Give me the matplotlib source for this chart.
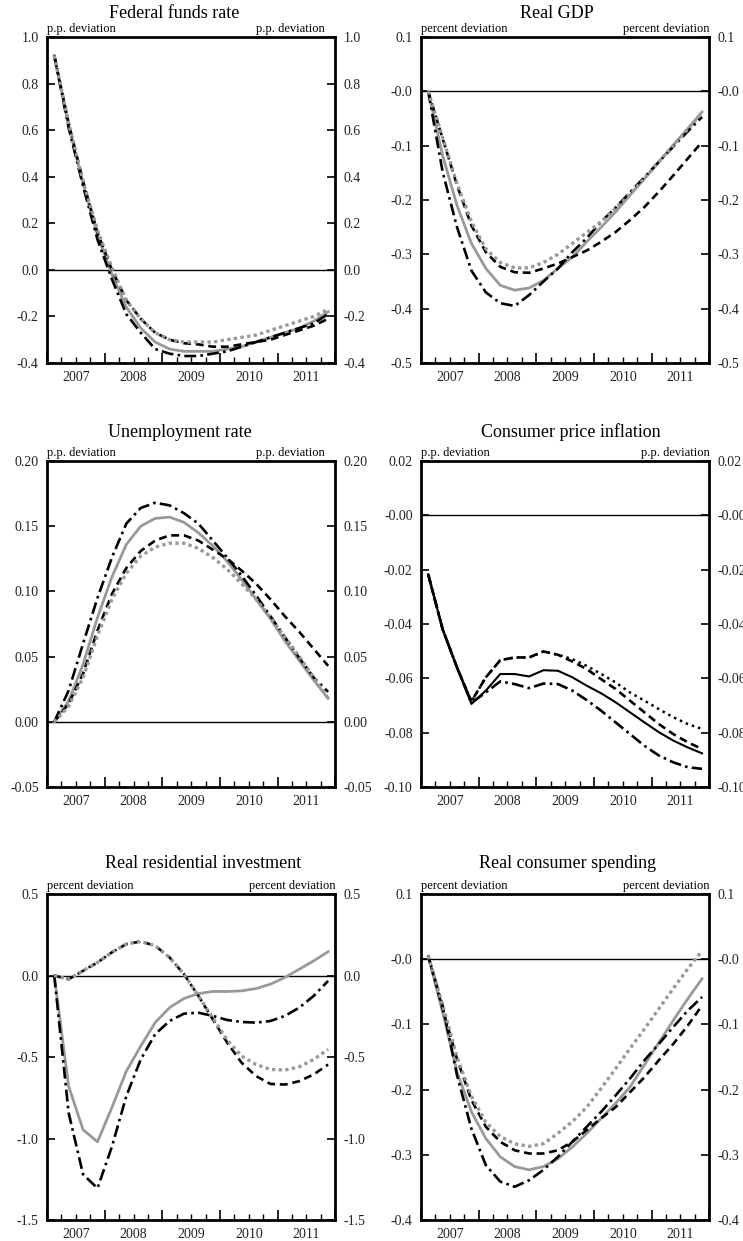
import matplotlib
matplotlib.use("Agg")
import matplotlib.pyplot as plt
import numpy as np

plt.rcParams['font.family'] = ['Liberation Serif', 'DejaVu Serif']

# quarterly, 2007Q1 .. 2011Q4
quarters = np.arange(20)
xq = 2007 + (quarters + 0.5) / 4
years = [2007, 2008, 2009, 2010, 2011]

# ---- Federal funds rate
ffr_solid = [0.92, 0.62, 0.37, 0.15, -0.02, -0.16, -0.25, -0.31, -0.34, -0.35, -0.35, -0.35,
             -0.34, -0.33, -0.31, -0.29, -0.27, -0.25, -0.22, -0.18]
ffr_dotted = [0.92, 0.63, 0.38, 0.17, 0.01, -0.13, -0.21, -0.27, -0.30, -0.31, -0.31, -0.31,
              -0.30, -0.29, -0.28, -0.26, -0.24, -0.22, -0.20, -0.17]
ffr_dashed = [0.92, 0.63, 0.38, 0.16, 0.00, -0.13, -0.21, -0.27, -0.30, -0.315, -0.32, -0.33,
              -0.33, -0.32, -0.31, -0.30, -0.28, -0.26, -0.24, -0.21]
ffr_dashdot = [0.92, 0.61, 0.36, 0.13, -0.04, -0.19, -0.27, -0.34, -0.36, -0.37, -0.37, -0.36,
               -0.35, -0.33, -0.31, -0.29, -0.27, -0.25, -0.23, -0.19]

# ---- Real GDP
gdp_solid = [0.0, -0.118, -0.21, -0.28, -0.326, -0.357, -0.366, -0.362, -0.348, -0.326, -0.305,
             -0.277, -0.25, -0.222, -0.191, -0.161, -0.13, -0.099, -0.069, -0.038]
gdp_dotted = [0.0, -0.085, -0.17, -0.24, -0.29, -0.315, -0.325, -0.325, -0.315, -0.30, -0.28,
              -0.26, -0.24, -0.215, -0.19, -0.16, -0.13, -0.10, -0.07, -0.04]
gdp_dashed = [0.0, -0.087, -0.173, -0.247, -0.296, -0.323, -0.333, -0.334, -0.326, -0.317, -0.305,
              -0.293, -0.277, -0.259, -0.237, -0.213, -0.185, -0.155, -0.124, -0.093]
gdp_dashdot = [0.0, -0.148, -0.25, -0.33, -0.37, -0.39, -0.395, -0.375, -0.35, -0.326, -0.296,
               -0.27, -0.24, -0.214, -0.186, -0.158, -0.130, -0.102, -0.074, -0.047]

# ---- Unemployment rate
ur_solid = [0.0, 0.016, 0.044, 0.080, 0.111, 0.136, 0.150, 0.156, 0.157, 0.153, 0.145, 0.135,
            0.123, 0.109, 0.094, 0.079, 0.062, 0.047, 0.032, 0.018]
ur_dotted = [0.0, 0.012, 0.034, 0.066, 0.094, 0.114, 0.127, 0.134, 0.137, 0.137, 0.133, 0.126,
             0.117, 0.106, 0.094, 0.080, 0.065, 0.050, 0.034, 0.018]
ur_dashed = [0.0, 0.014, 0.037, 0.070, 0.098, 0.118, 0.131, 0.139, 0.143, 0.143, 0.139, 0.132,
             0.125, 0.116, 0.106, 0.094, 0.081, 0.069, 0.056, 0.043]
ur_dashdot = [0.0, 0.024, 0.060, 0.095, 0.126, 0.152, 0.164, 0.168, 0.166, 0.160, 0.152, 0.139,
              0.126, 0.112, 0.097, 0.081, 0.065, 0.049, 0.034, 0.023]

# ---- Consumer price inflation
cpi_solid = [-0.0217, -0.0419, -0.056, -0.0694, -0.0645, -0.0584, -0.0584, -0.0593, -0.057, -0.0572,
             -0.0596, -0.0627, -0.0655, -0.0688, -0.0725, -0.0762, -0.0798, -0.0829, -0.0854, -0.0876]
cpi_dotted = [-0.0217, -0.0419, -0.056, -0.0685, -0.0596, -0.0533, -0.0523, -0.0523, -0.0501, -0.0513,
              -0.0529, -0.0554, -0.0584, -0.0615, -0.0652, -0.0682, -0.0713, -0.0743, -0.0768, -0.0786]
cpi_dashed = [-0.0217, -0.0419, -0.056, -0.0685, -0.0596, -0.0533, -0.0523, -0.0523, -0.0501, -0.0513,
              -0.0538, -0.0566, -0.0603, -0.0639, -0.0682, -0.0725, -0.0768, -0.0805, -0.0835, -0.086]
cpi_dashdot = [-0.0217, -0.0419, -0.056, -0.069, -0.0652, -0.0611, -0.0621, -0.0636, -0.0619, -0.0621,
               -0.0645, -0.068, -0.0719, -0.0762, -0.0805, -0.0848, -0.0884, -0.0909, -0.0927, -0.0933]

# ---- Real residential investment
rri_solid = [0.0, -0.68, -0.946, -1.02, -0.81, -0.587, -0.433, -0.289, -0.197, -0.141, -0.111,
             -0.098, -0.098, -0.094, -0.08, -0.053, -0.012, 0.039, 0.09, 0.146]
rri_dotted = [0.0, -0.023, 0.029, 0.08, 0.142, 0.193, 0.209, 0.183, 0.111, 0.008, -0.125,
              -0.26, -0.396, -0.494, -0.546, -0.576, -0.58, -0.56, -0.515, -0.453]
rri_dashed = [0.0, -0.023, 0.029, 0.08, 0.142, 0.193, 0.209, 0.183, 0.111, 0.008, -0.125,
              -0.269, -0.412, -0.535, -0.617, -0.665, -0.669, -0.648, -0.607, -0.546]
rri_dashdot = [0.0, -0.843, -1.22, -1.305, -1.05, -0.74, -0.515, -0.36, -0.279, -0.234, -0.228,
               -0.248, -0.273, -0.285, -0.289, -0.279, -0.248, -0.197, -0.125, -0.033]

# ---- Real consumer spending
rcs_solid = [0.005, -0.081, -0.173, -0.234, -0.275, -0.303, -0.318, -0.323, -0.318, -0.306, -0.288,
             -0.267, -0.244, -0.221, -0.196, -0.162, -0.128, -0.094, -0.061, -0.030]
rcs_dotted = [0.005, -0.07, -0.15, -0.21, -0.25, -0.272, -0.283, -0.287, -0.283, -0.267, -0.249,
              -0.227, -0.198, -0.168, -0.137, -0.107, -0.076, -0.045, -0.015, 0.013]
rcs_dashed = [0.005, -0.076, -0.153, -0.216, -0.257, -0.28, -0.293, -0.298, -0.298, -0.293, -0.28,
              -0.262, -0.244, -0.227, -0.204, -0.181, -0.155, -0.13, -0.102, -0.071]
rcs_dashdot = [0.005, -0.071, -0.178, -0.26, -0.316, -0.341, -0.349, -0.339, -0.323, -0.303, -0.28,
               -0.257, -0.234, -0.209, -0.183, -0.155, -0.13, -0.104, -0.079, -0.058]

panels = [
    dict(title="Federal funds rate", unit="p.p. deviation",
         series=(ffr_solid, ffr_dotted, ffr_dashed, ffr_dashdot),
         ylim=(-0.4, 1.0), yticks=[-0.4, -0.2, 0.0, 0.2, 0.4, 0.6, 0.8, 1.0],
         ylabels=['-0.4', '-0.2', '0.0', '0.2', '0.4', '0.6', '0.8', '1.0'],
         tx=0.44, pad=14, ux=0.965, gray=True),
    dict(title="Real GDP", unit="percent deviation",
         series=(gdp_solid, gdp_dotted, gdp_dashed, gdp_dashdot),
         ylim=(-0.5, 0.1), yticks=[-0.5, -0.4, -0.3, -0.2, -0.1, 0.0, 0.1],
         ylabels=['-0.5', '-0.4', '-0.3', '-0.2', '-0.1', '-0.0', '0.1'],
         tx=0.47, pad=14, ux=1.0, gray=True),
    dict(title="Unemployment rate", unit="p.p. deviation",
         series=(ur_solid, ur_dotted, ur_dashed, ur_dashdot),
         ylim=(-0.05, 0.20), yticks=[-0.05, 0.0, 0.05, 0.10, 0.15, 0.20],
         ylabels=['-0.05', '0.00', '0.05', '0.10', '0.15', '0.20'],
         tx=0.46, pad=17, ux=0.965, gray=True),
    dict(title="Consumer price inflation", unit="p.p. deviation",
         series=(cpi_solid, cpi_dotted, cpi_dashed, cpi_dashdot),
         ylim=(-0.10, 0.02), yticks=[-0.10, -0.08, -0.06, -0.04, -0.02, 0.0, 0.02],
         ylabels=['-0.10', '-0.08', '-0.06', '-0.04', '-0.02', '-0.00', '0.02'],
         tx=0.52, pad=17, ux=1.0, gray=False),
    dict(title="Real residential investment", unit="percent deviation",
         series=(rri_solid, rri_dotted, rri_dashed, rri_dashdot),
         ylim=(-1.5, 0.5), yticks=[-1.5, -1.0, -0.5, 0.0, 0.5],
         ylabels=['-1.5', '-1.0', '-0.5', '0.0', '0.5'],
         tx=0.54, pad=19, ux=1.0, gray=True),
    dict(title="Real consumer spending", unit="percent deviation",
         series=(rcs_solid, rcs_dotted, rcs_dashed, rcs_dashdot),
         ylim=(-0.4, 0.1), yticks=[-0.4, -0.3, -0.2, -0.1, 0.0, 0.1],
         ylabels=['-0.4', '-0.3', '-0.2', '-0.1', '-0.0', '0.1'],
         tx=0.51, pad=19, ux=1.0, gray=True),
]

fig = plt.figure(figsize=(7.43, 12.41), dpi=100)
lefts = [0.0633, 0.5666]
bottoms = [0.7075, 0.3658, 0.0169]
width = 0.388
height = 0.2627

for k, p in enumerate(panels):
    ax = fig.add_axes([lefts[k % 2], bottoms[k // 2], width, height])
    solid, dotted, dashed, dashdot = p["series"]
    if p["gray"]:
        ax.plot(xq, solid, color="#999999", lw=2.0, zorder=3)
        ax.plot(xq, dotted, color="#999999", lw=2.4, linestyle=(0, (1, 1)), zorder=4)
    else:
        ax.plot(xq, solid, color="black", lw=1.5, zorder=3)
        ax.plot(xq, dotted, color="black", lw=1.8, linestyle=(0, (1, 1.6)), zorder=4)
    ax.plot(xq, dashed, color="black", lw=1.9, linestyle=(0, (3, 1.8)), zorder=3)
    ax.plot(xq, dashdot, color="black", lw=1.9, linestyle=(0, (4.5, 1.6, 1, 1.6)), zorder=3)
    ax.axhline(0, color="black", lw=1.0, zorder=2)

    ax.set_xlim(2007, 2012)
    ax.set_ylim(*p["ylim"])
    ax.set_yticks(p["yticks"])
    ax.set_yticklabels(p["ylabels"])
    ax.tick_params(axis="y", direction="in", length=6, width=1.2, left=True, right=True,
                   labelleft=True, labelright=True, labelsize=10, pad=6,
                   color="black", labelcolor="#222222")

    ax.set_xticks(np.arange(2007, 2013))
    ax.set_xticks(np.arange(2007, 2012.01, 0.25), minor=True)
    ax.set_xticklabels([])
    ax.tick_params(axis="x", which="major", direction="in", length=7, width=1.2, top=False)
    ax.tick_params(axis="x", which="minor", direction="in", length=4, width=1.0, top=False)
    for yr in years:
        ax.text(yr + 0.5, -0.025, str(yr), transform=ax.get_xaxis_transform(),
                ha="center", va="top", fontsize=10, color="#222222")

    for s in ax.spines.values():
        s.set_linewidth(2.0)

    ax.set_title(p["title"], fontsize=13, x=p["tx"], pad=p["pad"])
    ax.text(0.0, 1.006, p["unit"], transform=ax.transAxes, ha="left", va="bottom", fontsize=9)
    ax.text(p["ux"], 1.006, p["unit"], transform=ax.transAxes, ha="right", va="bottom", fontsize=9)

fig.savefig("out.png", dpi=100)
